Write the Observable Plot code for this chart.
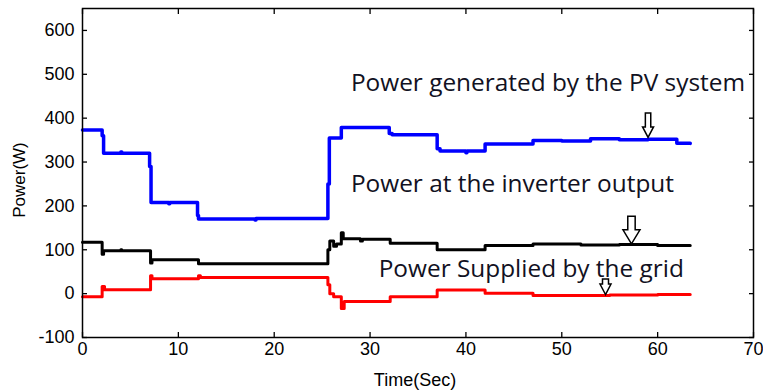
<!DOCTYPE html>
<html><head><meta charset="utf-8">
<script src="https://cdn.jsdelivr.net/npm/d3@7"></script>
<script src="https://cdn.jsdelivr.net/npm/@observablehq/plot@0.6"></script>
<style>body{margin:0;background:#fff} svg{display:block}</style>
</head><body><div id="chart"></div>
<script>
// PV power (blue)
const pvTime  = [0, 2.05, 2.2, 4.0, 4.1, 7.0, 7.15, 9.0, 9.1, 12.0, 12.1, 18.0, 18.1, 25.6, 25.75, 27.0, 32.0, 32.3, 37.0, 37.3, 40.0, 40.1, 42.0, 47.0, 50.0, 53.0, 56.0, 59.0, 62.0, 63.4];
const pvPower = [373, 360, 320, 323, 320, 290, 208, 205, 208, 178, 170, 168, 171, 250, 355, 379, 365, 362, 330, 325, 321, 325, 341, 349, 348, 353, 351, 352, 343, 342];
// Inverter output (black)
const invTime  = [0, 2.05, 2.2, 4.0, 4.1, 7.1, 7.25, 12.1, 25.6, 25.8, 26.2, 26.5, 27.0, 27.2, 29.0, 29.2, 32.1, 37.0, 42.0, 47.0, 52.0, 56.0, 60.0, 63.4];
const invPower = [117, 90, 98, 100, 98, 70, 77, 68, 100, 120, 108, 113, 139, 125, 120, 124, 115, 100, 110, 113, 111, 112, 110, 110];
// Grid power (red)
const gridTime  = [0, 2.05, 2.3, 7.1, 7.25, 12.1, 12.3, 25.6, 25.8, 26.2, 27.0, 27.3, 32.1, 37.0, 42.0, 47.0, 55.0, 60.0, 63.4];
const gridPower = [-7, 16, 9, 41, 34, 41, 37, 20, 0, -7, -34, -18, -7, 8, 1, -4, -3, -2, -2];
// Annotation arrows (tip positions)
const arrowTime  = [59.0, 57.27, 54.56];
const arrowPower = [356, 113.5, -2];
// Annotation texts
const labelText  = ["Power generated by the PV system", "Power at the inverter output", "Power Supplied by the grid"];
const labelTime  = [28.0, 28.0, 30.9];
const labelPower = [461, 232.5, 37];
// Ticks
const xTicks = [0, 10, 20, 30, 40, 50, 60, 70];
const yTicks = [-100, 0, 100, 200, 300, 400, 500, 600];

const toRows = (ts, vs) => ts.map((t, i) => ({t, v: vs[i]}));
const pv = toRows(pvTime, pvPower);
const inv = toRows(invTime, invPower);
const grid = toRows(gridTime, gridPower);
const arrows = toRows(arrowTime, arrowPower);
const labels = labelText.map((s, i) => ({s, t: labelTime[i], v: labelPower[i]}));

function arrowSymbol(hw, hh, sw, H) {
  return {draw(ctx) {
    ctx.moveTo(0, 0); ctx.lineTo(-hw, -hh); ctx.lineTo(-sw, -hh); ctx.lineTo(-sw, -H);
    ctx.lineTo(sw, -H); ctx.lineTo(sw, -hh); ctx.lineTo(hw, -hh); ctx.closePath();
  }};
}
const arrowShapes = [arrowSymbol(5.5, 10.5, 2.7, 24.5), arrowSymbol(8.5, 14, 3.7, 27.5), arrowSymbol(5.5, 10.5, 3, 15.5)];

const chart = Plot.plot({
  width: 763, height: 390,
  marginLeft: 82, marginRight: 10, marginTop: 8, marginBottom: 53,
  style: {fontFamily: "'Liberation Sans', Arial, sans-serif", fontSize: "18px", color: "#000", background: "#fff"},
  x: {domain: [0, 70]},
  y: {domain: [-100, 650]},
  marks: [
    Plot.axisX(xTicks, {anchor: "bottom", tickSize: -5, tickPadding: 10, label: null, strokeWidth: 1.3}),
    Plot.axisX(xTicks, {anchor: "top", tickSize: -5, tickFormat: () => "", label: null, strokeWidth: 1.3}),
    Plot.axisY(yTicks, {anchor: "left", tickSize: -5, tickPadding: 13, label: null, strokeWidth: 1.3, tickFormat: d => String(d)}),
    Plot.axisY(yTicks, {anchor: "right", tickSize: -5, tickFormat: () => "", label: null, strokeWidth: 1.3}),
    Plot.line(pv, {x: "t", y: "v", curve: "step-after", stroke: "#0000ff", strokeWidth: 3.5}),
    Plot.line(inv, {x: "t", y: "v", curve: "step-after", stroke: "#000000", strokeWidth: 3}),
    Plot.line(grid, {x: "t", y: "v", curve: "step-after", stroke: "#ff0000", strokeWidth: 3}),
    ...arrows.map((a, i) => Plot.dot([a], {x: "t", y: "v", symbol: arrowShapes[i], r: 5, fill: "white", stroke: "black", strokeWidth: 1.5})),
    Plot.text(labels, {x: "t", y: "v", text: "s", textAnchor: "start", lineAnchor: "bottom", fontFamily: "'Open Sans', sans-serif", fontSize: 24.4, fill: "#111122"}),
    Plot.text(["Time(Sec)"], {frameAnchor: "bottom", dy: 48, dx: -3, lineAnchor: "bottom", fontSize: 18}),
    Plot.text(["Power(W)"], {frameAnchor: "left", rotate: -90, textAnchor: "middle", dx: -63, dy: 7, fontSize: 17}),
    Plot.frame({stroke: "black", strokeWidth: 1.5})
  ]
});
document.getElementById("chart").append(chart);
</script>
</body></html>
